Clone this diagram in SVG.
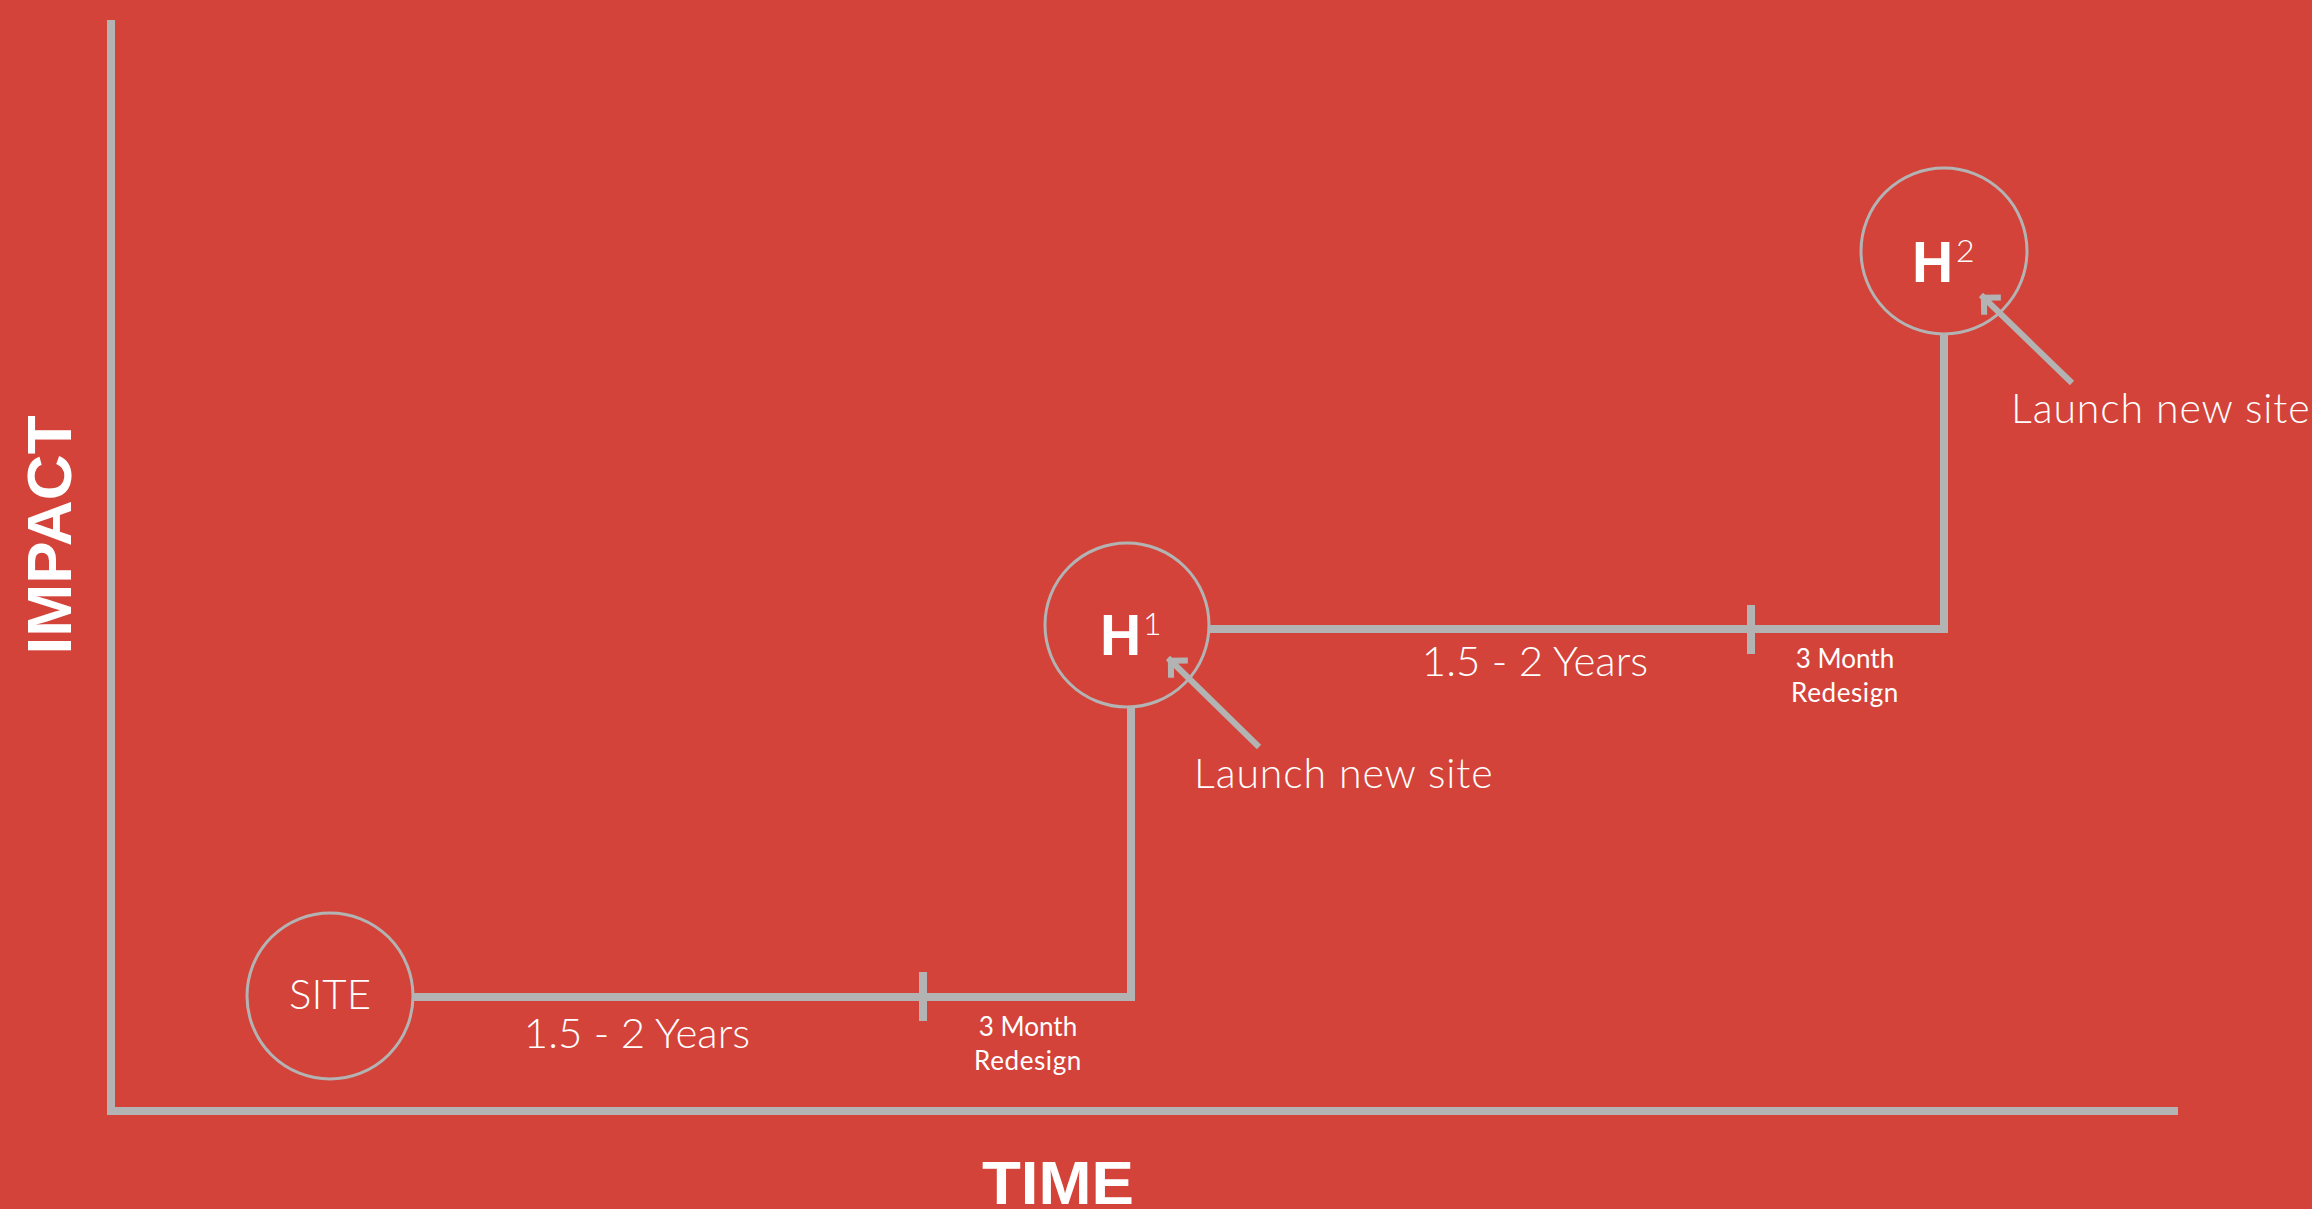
<svg xmlns="http://www.w3.org/2000/svg" width="2312" height="1209" viewBox="0 0 2312 1209">
<style>
.line{fill:none;stroke:#b3b3b3;stroke-width:8;stroke-linejoin:miter;stroke-linecap:butt}
.ring{fill:none;stroke:#b3b3b3;stroke-width:3}
.arrow{fill:none;stroke:#b3b3b3;stroke-width:6}
.light{font-family:Lato,"Liberation Sans",sans-serif;font-weight:300;fill:#ffffff}
.reg{font-family:Lato,"Liberation Sans",sans-serif;font-weight:400;fill:#ffffff}
.heavy{font-family:"Liberation Sans",Arial,sans-serif;font-weight:700;fill:#ffffff}
.launch{font-size:41px;letter-spacing:0.9px}
</style>
<defs>
<marker id="head" markerUnits="userSpaceOnUse" viewBox="-20 -20 30 40" markerWidth="30" markerHeight="40" refX="0" refY="0" orient="auto" overflow="visible">
<path d="M-16,-12 L-4,0 L-16,12" fill="none" stroke="#b3b3b3" stroke-width="6" stroke-linejoin="miter"/>
</marker>
</defs>
<rect width="2312" height="1209" fill="#d3433a"/>
<g id="axes">
<path class="line" d="M111,20 L111,1111 L2178,1111"/>
<text class="heavy" font-size="63" text-anchor="middle" textLength="239" lengthAdjust="spacingAndGlyphs" transform="translate(71,535) rotate(-90)">IMPACT</text>
<text class="heavy" font-size="61" x="1058" y="1204" text-anchor="middle" textLength="152" lengthAdjust="spacingAndGlyphs">TIME</text>
</g>
<g id="connectors">
<path class="line" d="M413,997 L1131,997 L1131,707"/>
<path class="line" d="M1209,629 L1944,629 L1944,333"/>
<path class="line" d="M923,972 L923,1021"/>
<path class="line" d="M1751,605 L1751,654"/>
<path class="arrow" d="M1259,747 L1168,658" marker-end="url(#head)"/>
<path class="arrow" d="M2072,383 L1981,295" marker-end="url(#head)"/>
</g>
<g id="site">
<circle class="ring" cx="330" cy="996" r="83"/>
<text class="light" font-size="42" x="330" y="1009" text-anchor="middle">SITE</text>
</g>
<g id="phase1">
<text class="light" font-size="42" x="637" y="1048" text-anchor="middle">1.5 - 2 Years</text>
<text class="reg" font-size="26" x="1028" y="1036" text-anchor="middle">3 Month</text>
<text class="reg" font-size="26" x="1028" y="1070" text-anchor="middle" letter-spacing="0.6">Redesign</text>
</g>
<g id="h1">
<circle class="ring" cx="1127" cy="625" r="82"/>
<text class="heavy" font-size="57" x="1100" y="655">H</text>
<text class="light" font-size="32" x="1143" y="635">1</text>
<text class="light launch" x="1194" y="788">Launch new site</text>
</g>
<g id="phase2">
<text class="light" font-size="42" x="1535" y="676" text-anchor="middle">1.5 - 2 Years</text>
<text class="reg" font-size="26" x="1845" y="668" text-anchor="middle">3 Month</text>
<text class="reg" font-size="26" x="1845" y="702" text-anchor="middle" letter-spacing="0.6">Redesign</text>
</g>
<g id="h2">
<circle class="ring" cx="1944" cy="251" r="83"/>
<text class="heavy" font-size="57" x="1912" y="282">H</text>
<text class="light" font-size="32" x="1956" y="262">2</text>
<text class="light launch" x="2011" y="423" letter-spacing="0.6">Launch new site</text>
</g>
</svg>
